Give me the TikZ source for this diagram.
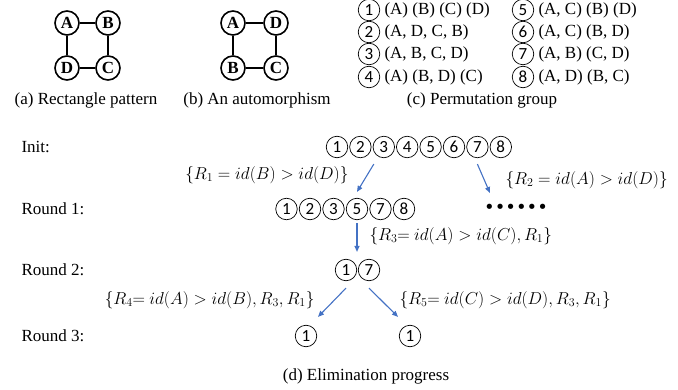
\documentclass[tikz,border=0pt]{standalone}
\usepackage{fontspec}
\setmainfont{Liberation Serif}
\newfontfamily\numfont{Carlito}
\newfontfamily\dotfont{DejaVu Sans}
\usepackage{amsmath}
\usetikzlibrary{arrows.meta, positioning}
\definecolor{myblue}{RGB}{68,114,196}
\tikzset{
  vnode/.style={circle, draw, line width=1.6pt, minimum size=24pt,
    inner sep=0pt, font=\fontsize{17}{17}\selectfont\bfseries},
  edge/.style={line width=1.5pt},
  cnum/.style={circle, draw, line width=0.7pt, minimum size=21.5pt,
    inner sep=0pt, font=\fontsize{17}{17}\selectfont\numfont},
  arrow/.style={-{Triangle[length=6pt,width=5pt]}, line width=1.1pt, color=myblue},
  rlabel/.style={anchor=west}
}

\begin{document}
\begin{tikzpicture}[x=1pt, y=1pt, font=\fontsize{17}{20}\selectfont]
  \useasboundingbox (0,0) rectangle (678,389);

  % (a) Rectangle pattern
  \node[vnode] (pa) at (67,366) {A};
  \node[vnode] (pb) at (108,366) {B};
  \node[vnode] (pc) at (108,321) {C};
  \node[vnode] (pd) at (67,321) {D};
  \draw[edge] (pa) -- (pb) -- (pc) -- (pd) -- (pa);
  \node (capa) at (86,289) {(a) Rectangle pattern};

  % (b) An automorphism
  \node[vnode] (qa) at (233,366) {A};
  \node[vnode] (qd) at (276,366) {D};
  \node[vnode] (qc) at (276,321) {C};
  \node[vnode] (qb) at (233,321) {B};
  \draw[edge] (qa) -- (qd) -- (qc) -- (qb) -- (qa);
  \node (capb) at (257,289) {(b) An automorphism};

  % (c) Permutation group
  \foreach \k/\y/\txt in {1/379/{(A) (B) (C) (D)}, 2/357/{(A, D, C, B)},
      3/335/{(A, B, C, D)}, 4/312/{(A) (B, D) (C)}} {
    \node[cnum] (g\k) at (369,\y) {\k};
    \node[rlabel] (gt\k) at (381,\y) {\txt};
  }
  \foreach \k/\y/\txt in {5/379/{(A, C) (B) (D)}, 6/357/{(A, C) (B, D)},
      7/335/{(A, B) (C, D)}, 8/312/{(A, D) (B, C)}} {
    \node[cnum] (g\k) at (523,\y) {\k};
    \node[rlabel] (gt\k) at (535,\y) {\txt};
  }
  \node (capc) at (482,289) {(c) Permutation group};

  % (d) Elimination progress
  \node[rlabel] (init) at (18,242) {Init:};
  \node[rlabel] (rnd1) at (18,180) {Round 1:};
  \node[rlabel] (rnd2) at (18,119) {Round 2:};
  \node[rlabel] (rnd3) at (18,53) {Round 3:};

  \foreach \k in {1,...,8}
    \node[cnum] (i\k) at ({313.6+23.4*\k},242) {\k};
  \foreach \k [count=\c] in {1,2,3,5,7,8}
    \node[cnum] (a\k) at ({263+23.5*\c},180) {\k};
  \node[inner sep=0pt, font=\fontsize{18}{18}\selectfont\dotfont] (dots) at (516,180) {••••••};
  \node[cnum] (b1) at (346,119) {1};
  \node[cnum] (b7) at (369,119) {7};
  \node[cnum] (d1) at (306,53) {1};
  \node[cnum] (d2) at (410,53) {1};

  \draw[arrow] ([xshift=-10pt,yshift=-6pt]i3.south) -- ([yshift=6pt]a5.north);
  \draw[arrow] ([yshift=-6pt]i7.south) -- ([xshift=6pt,yshift=16pt]dots.west);
  \draw[arrow] ([yshift=-3pt]a5.south) -- ([yshift=7pt]a5.south |- b1.north);
  \draw[arrow] ([yshift=-7pt]b1.south) -- ([xshift=12pt,yshift=8pt]d1.north);
  \draw[arrow] ([yshift=-7pt]b7.south) -- ([xshift=-12pt,yshift=8pt]d2.north);

  \node[anchor=east] (rule1) at (352,214) {$\{R_1 = id(B) > id(D)\}$};
  \node[rlabel] (rule2) at (502,209) {$\{R_2 = id(A) > id(D)\}$};
  \node[rlabel] (rule3) at (366,153) {$\{R_3{=}\ id(A) > id(C), R_1\}$};
  \node[anchor=east] (rule4) at (318,89) {$\{R_4{=}\ id(A) > id(B), R_3, R_1\}$};
  \node[rlabel] (rule5) at (396,89) {$\{R_5{=}\ id(C) > id(D), R_3, R_1\}$};

  \node (capd) at (366,13) {(d) Elimination progress};
\end{tikzpicture}
\end{document}
